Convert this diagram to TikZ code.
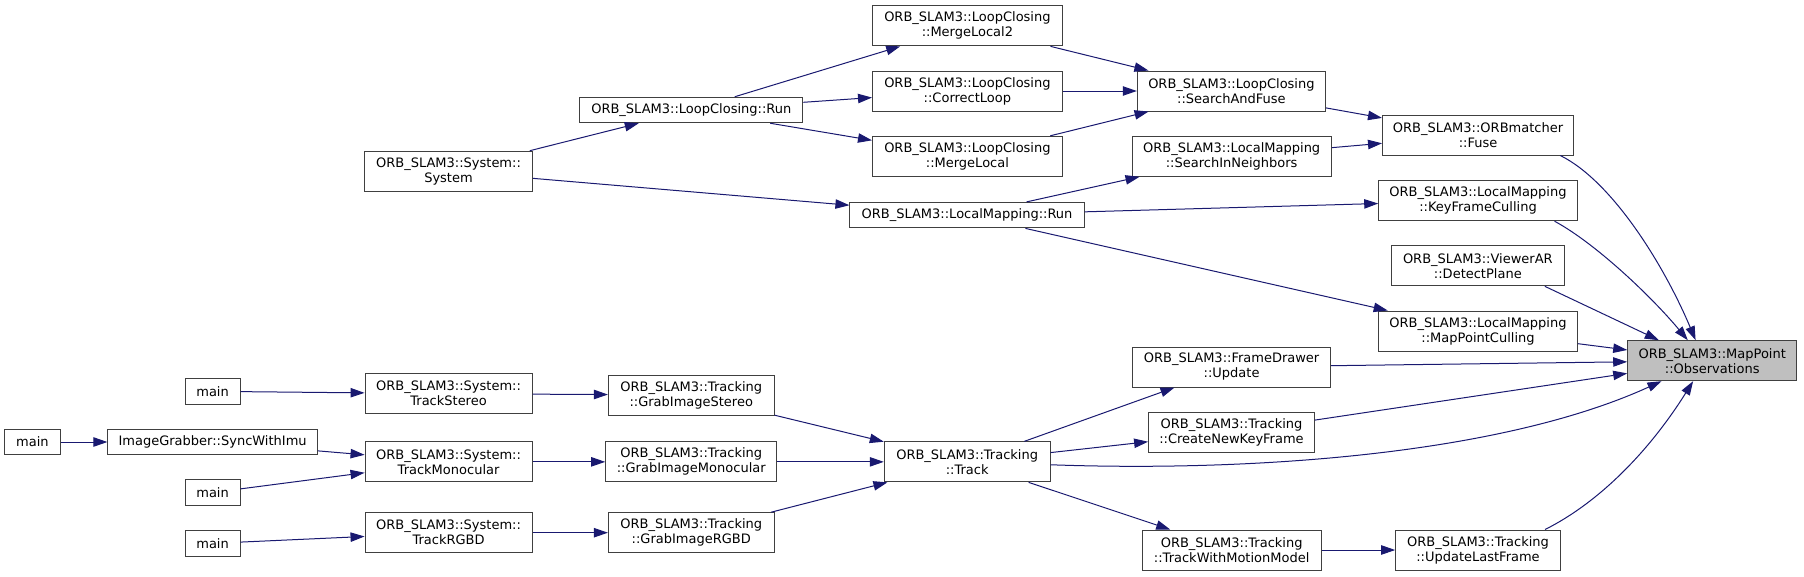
\documentclass[tikz,border=0pt]{standalone}
\usepackage{fontspec}
\setmainfont{DejaVu Sans}
\usepackage{xcolor}
\definecolor{EdgeBlue}{HTML}{191970}
\definecolor{BoxLine}{HTML}{404040}
\definecolor{FocusGray}{HTML}{BFBFBF}
\usetikzlibrary{arrows.meta,positioning}
\tikzset{
  cgnode/.style={draw=BoxLine, fill=white, line width=1pt, align=center,
                 font=\fontsize{13}{15}\selectfont, minimum height=40pt,
                 inner xsep=3pt, inner ysep=2pt},
  cgone/.style={cgnode, minimum height=25.5pt},
  cgfocus/.style={cgnode, fill=FocusGray},
  cgarr/.style={-{Triangle[length=14pt,width=9.4pt]}, line width=1pt, EdgeBlue}
}
\begin{document}
\begin{tikzpicture}[x=1pt, y=1pt]
\useasboundingbox (0,0) rectangle (1804,-576);
% Column 0 and 1 (entry points)
\node[cgone, minimum width=55.7pt] (main0) at (32.45,-442) {main};
\node[cgone, minimum width=54.8pt] (mainst) at (212.6,-391.35) {main};
\node[cgone, minimum width=209.4pt] (swi) at (212.6,-442) {ImageGrabber::SyncWithImu};
\node[cgone, minimum width=54.8pt] (mainmo) at (212.6,-492.5) {main};
\node[cgone, minimum width=54.8pt] (mainrg) at (212.6,-543.35) {main};
% Column 2 (System)
\node[cgnode, minimum width=167.6pt] (sys) at (448.5,-171.2) {ORB\_SLAM3::System::\\System};
\node[cgnode, minimum width=167pt] (ts) at (448.55,-393.7) {ORB\_SLAM3::System::\\TrackStereo};
\node[cgnode, minimum width=167pt] (tm) at (448.55,-461.85) {ORB\_SLAM3::System::\\TrackMonocular};
\node[cgnode, minimum width=167pt] (trgbd) at (448.55,-532.7) {ORB\_SLAM3::System::\\TrackRGBD};
% Column 3
\node[cgone, minimum width=223pt] (lcrun) at (691.3,-110) {ORB\_SLAM3::LoopClosing::Run};
\node[cgnode, minimum width=165.7pt] (gis) at (691.25,-395) {ORB\_SLAM3::Tracking\\::GrabImageStereo};
\node[cgnode, minimum width=171.1pt] (gim) at (691.25,-461.85) {ORB\_SLAM3::Tracking\\::GrabImageMonocular};
\node[cgnode, minimum width=165.7pt] (girgbd) at (691.25,-532.7) {ORB\_SLAM3::Tracking\\::GrabImageRGBD};
% Column 4
\node[cgnode, minimum width=189.8pt] (ml2) at (967.4,-25.85) {ORB\_SLAM3::LoopClosing\\::MergeLocal2};
\node[cgnode, minimum width=189.8pt] (cl) at (967.4,-91) {ORB\_SLAM3::LoopClosing\\::CorrectLoop};
\node[cgnode, minimum width=189.8pt] (ml) at (967.4,-156.3) {ORB\_SLAM3::LoopClosing\\::MergeLocal};
\node[cgone, minimum width=234.2pt] (lmrun) at (967,-215.15) {ORB\_SLAM3::LocalMapping::Run};
\node[cgnode, minimum width=165.7pt] (track) at (967.15,-461.85) {ORB\_SLAM3::Tracking\\::Track};
% Column 5
\node[cgnode, minimum width=188.2pt] (saf) at (1231.4,-91) {ORB\_SLAM3::LoopClosing\\::SearchAndFuse};
\node[cgnode, minimum width=199.3pt] (sin) at (1231.65,-156.3) {ORB\_SLAM3::LocalMapping\\::SearchInNeighbors};
\node[cgnode, minimum width=197.8pt] (fdu) at (1231.6,-367) {ORB\_SLAM3::FrameDrawer\\::Update};
\node[cgnode, minimum width=165.8pt] (cnkf) at (1231.5,-432.5) {ORB\_SLAM3::Tracking\\::CreateNewKeyFrame};
\node[cgnode, minimum width=179.3pt] (twmm) at (1231.65,-550) {ORB\_SLAM3::Tracking\\::TrackWithMotionModel};
% Column 6
\node[cgnode, minimum width=191pt] (fuse) at (1478,-135) {ORB\_SLAM3::ORBmatcher\\::Fuse};
\node[cgnode, minimum width=198.6pt] (kfc) at (1478,-200.7) {ORB\_SLAM3::LocalMapping\\::KeyFrameCulling};
\node[cgnode, minimum width=172.3pt] (dp) at (1477.85,-265.85) {ORB\_SLAM3::ViewerAR\\::DetectPlane};
\node[cgnode, minimum width=198.6pt] (mpc) at (1478,-331) {ORB\_SLAM3::LocalMapping\\::MapPointCulling};
\node[cgnode, minimum width=164.6pt] (ulf) at (1478,-550) {ORB\_SLAM3::Tracking\\::UpdateLastFrame};
% Column 7 (focus)
\node[cgfocus, minimum width=169pt] (obs) at (1712.2,-360.7) {ORB\_SLAM3::MapPoint\\::Observations};
% call edges (caller -> callee)
\draw[cgarr] (main0) -- (swi);
\draw[cgarr] (mainst) -- (ts);
\draw[cgarr] (swi) -- (tm);
\draw[cgarr] (mainmo) -- (tm);
\draw[cgarr] (mainrg) -- (trgbd);
\draw[cgarr] (sys) -- (lcrun);
\draw[cgarr] (sys) -- (lmrun);
\draw[cgarr] (ts) -- (gis);
\draw[cgarr] (tm) -- (gim);
\draw[cgarr] (trgbd) -- (girgbd);
\draw[cgarr] (lcrun) -- (ml2);
\draw[cgarr] (lcrun) -- (cl);
\draw[cgarr] (lcrun) -- (ml);
\draw[cgarr] (gis) -- (track);
\draw[cgarr] (gim) -- (track);
\draw[cgarr] (girgbd) -- (track);
\draw[cgarr] (ml2) -- (saf);
\draw[cgarr] (cl) -- (saf);
\draw[cgarr] (ml) -- (saf);
\draw[cgarr] (lmrun) -- (sin);
\draw[cgarr] (lmrun) -- (kfc);
\draw[cgarr] (lmrun) -- (mpc);
\draw[cgarr] (track) -- (fdu);
\draw[cgarr] (track) -- (cnkf);
\draw[cgarr] (track) -- (twmm);
\draw[cgarr] (saf) -- (fuse);
\draw[cgarr] (sin) -- (fuse);
\draw[cgarr] (twmm) -- (ulf);
% edges into the focus node
\draw[cgarr] (fuse.-14) .. controls (1612,-181) and (1664,-265) .. (obs.129);
\draw[cgarr] (kfc.-15) .. controls (1595,-243) and (1651,-296) .. (obs.140);
\draw[cgarr] (dp.-17) -- (obs.159);
\draw[cgarr] (mpc) -- (obs);
\draw[cgarr] (fdu) -- (obs);
\draw[cgarr] (cnkf) -- (obs);
\draw[cgarr] (track.-2) .. controls (1250,-472) and (1500,-455) .. (obs.-158);
\draw[cgarr] (ulf.17) .. controls (1600,-502) and (1650,-450) .. (obs.-133);
\end{tikzpicture}
\end{document}
